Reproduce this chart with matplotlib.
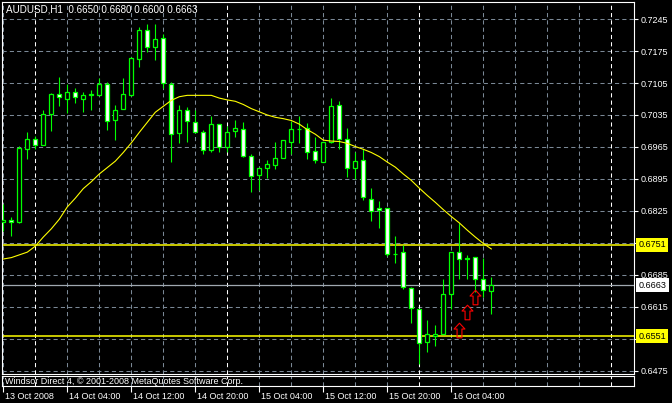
import matplotlib
matplotlib.use('Agg')
import matplotlib.pyplot as plt
import matplotlib.transforms as mtransforms
from matplotlib.path import Path
import numpy as np

plt.rcParams['font.family'] = ['Liberation Sans', 'DejaVu Sans']

# ---- data (AUDUSD H1, 13 Oct 2008 20:00 ... 16 Oct 2008 09:00) ----
symbol = 'AUDUSD,H1'
opens = [0.6801, 0.6805, 0.6800, 0.6961, 0.6982, 0.6970, 0.7037, 0.7081, 0.7071, 0.7085,
         0.7071, 0.7078, 0.7078, 0.7103, 0.7023, 0.7049, 0.7078, 0.7157, 0.7222, 0.7183,
         0.7203, 0.7103, 0.6995, 0.7047, 0.7019, 0.6997, 0.6958, 0.7015, 0.6964, 0.6999,
         0.7004, 0.6945, 0.6903, 0.6918, 0.6925, 0.6942, 0.6977, 0.7004, 0.7006, 0.6956,
         0.6933, 0.6975, 0.7056, 0.6982, 0.6918, 0.6936, 0.6851, 0.6831, 0.6831, 0.6732,
         0.6735, 0.6656, 0.6610, 0.6538, 0.6551, 0.6557, 0.6643, 0.6735, 0.6723, 0.6724,
         0.6676, 0.6650]
highs = [0.6840, 0.6812, 0.6967, 0.6998, 0.6989, 0.7046, 0.7084, 0.7119, 0.7103, 0.7094,
         0.7085, 0.7090, 0.7116, 0.7107, 0.7056, 0.7116, 0.7161, 0.7227, 0.7234, 0.7234,
         0.7212, 0.7107, 0.7056, 0.7053, 0.7046, 0.7002, 0.7033, 0.7015, 0.7012, 0.7023,
         0.7020, 0.6949, 0.6919, 0.6936, 0.6977, 0.6981, 0.7022, 0.7032, 0.7017, 0.6986,
         0.6976, 0.7072, 0.7065, 0.7006, 0.6953, 0.6960, 0.6875, 0.6846, 0.6831, 0.6770,
         0.6750, 0.6658, 0.6611, 0.6586, 0.6575, 0.6676, 0.6736, 0.6798, 0.6728, 0.6725,
         0.6722, 0.6680]
lows = [0.6781, 0.6771, 0.6799, 0.6939, 0.6960, 0.6969, 0.7001, 0.7055, 0.7040, 0.7062,
        0.7042, 0.7046, 0.7078, 0.7002, 0.6980, 0.7049, 0.7077, 0.7141, 0.7173, 0.7155,
        0.7094, 0.6932, 0.6973, 0.6977, 0.6996, 0.6950, 0.6953, 0.6953, 0.6955, 0.6986,
        0.6943, 0.6866, 0.6870, 0.6897, 0.6916, 0.6941, 0.6949, 0.6973, 0.6938, 0.6929,
        0.6932, 0.6974, 0.6960, 0.6899, 0.6894, 0.6848, 0.6804, 0.6788, 0.6727, 0.6712,
        0.6655, 0.6581, 0.6490, 0.6516, 0.6529, 0.6556, 0.6610, 0.6677, 0.6677, 0.6648,
        0.6636, 0.6600]
closes = [0.6805, 0.6800, 0.6962, 0.6982, 0.6970, 0.7037, 0.7081, 0.7074, 0.7085, 0.7074,
          0.7078, 0.7081, 0.7103, 0.7021, 0.7047, 0.7081, 0.7160, 0.7222, 0.7183, 0.7201,
          0.7104, 0.6993, 0.7047, 0.7021, 0.6998, 0.6959, 0.7015, 0.6964, 0.6997, 0.7006,
          0.6945, 0.6901, 0.6918, 0.6927, 0.6942, 0.6980, 0.7004, 0.7004, 0.6953, 0.6936,
          0.6975, 0.7054, 0.6982, 0.6918, 0.6934, 0.6855, 0.6826, 0.6827, 0.6730, 0.6731,
          0.6658, 0.6612, 0.6536, 0.6555, 0.6557, 0.6643, 0.6735, 0.6719, 0.6719, 0.6676,
          0.6652, 0.6663]
ma = [0.6720, 0.6723, 0.6729, 0.6735, 0.6748, 0.6768, 0.6786, 0.6807, 0.6834, 0.6853,
      0.6874, 0.6889, 0.6906, 0.6920, 0.6934, 0.6953, 0.6974, 0.6997, 0.7019, 0.7041,
      0.7054, 0.7067, 0.7075, 0.7078, 0.7078, 0.7078, 0.7078, 0.7072, 0.7068, 0.7065,
      0.7058, 0.7049, 0.7042, 0.7035, 0.7030, 0.7027, 0.7023, 0.7015, 0.7003, 0.6993,
      0.6980, 0.6978, 0.6977, 0.6973, 0.6966, 0.6960, 0.6953, 0.6944, 0.6932, 0.6921,
      0.6906, 0.6892, 0.6875, 0.6859, 0.6844, 0.6828, 0.6813, 0.6799, 0.6783, 0.6768,
      0.6754, 0.6742]

time_labels = ['13 Oct 2008', '14 Oct 04:00', '14 Oct 12:00', '14 Oct 20:00',
               '15 Oct 04:00', '15 Oct 12:00', '15 Oct 20:00', '16 Oct 04:00']
time_label_bars = [0, 8, 16, 24, 32, 40, 48, 56]
day_breaks = [4, 28, 52, 76]
price_ticks = [0.7245, 0.7175, 0.7105, 0.7035, 0.6965, 0.6895, 0.6825,
               0.6755, 0.6685, 0.6615, 0.6545, 0.6475]
hidden_ticks = [0.6755]          # fully covered by the 0.6751 level tag
levels = [0.6751, 0.6551]
bid = 0.6663
arrow_bars = [57, 58, 59]
arrow_prices = [0.6565, 0.6603, 0.6637]
copyright_text = 'Windsor Direct 4, \u00a9 2001-2008 MetaQuotes Software Corp.'

# ---- layout (pixels) ----
W, H = 672, 403
fs = 6.5
grid_c = '#7a8896'
dash = (0, (4, 3))

fig = plt.figure(figsize=(W / 100, H / 100), dpi=100, facecolor='black')
ax = fig.add_axes([2 / W, 1 - 374 / H, 632 / W, 372 / H], facecolor='black')
ax.set_xlim(-0.1625, 78.8375)
ax.set_ylim(0.646843, 0.728219)

# grid
for p in price_ticks:
    ax.axhline(p, color=grid_c, lw=0.75, ls=dash, zorder=1)
for b in range(0, 80, 4):
    col = 'white' if b in day_breaks else grid_c
    ax.axvline(b, color=col, lw=0.75, ls=dash, zorder=1)

# level lines
for lv in levels:
    ax.axhline(lv, color='yellow', lw=1.1, zorder=2)
ax.axhline(bid, color='#a0a8b0', lw=0.9, zorder=2)

# candles
x = np.arange(len(opens))
o = np.array(opens)
c = np.array(closes)
bull = c >= o
ax.vlines(x, lows, highs, color='#00ff00', lw=0.8, zorder=3)
ax.bar(x, np.abs(c - o), bottom=np.minimum(o, c), width=0.5,
       color=np.where(bull, 'black', 'white'), edgecolor='#00ff00',
       linewidth=0.9, zorder=4)

# moving average
ax.plot(x, ma, color='yellow', lw=0.8, zorder=5)

# signal arrows
arrow = Path([(0, 6), (4.5, 1.2), (2, 1.2), (2, -6), (-2, -6), (-2, 1.2), (-4.5, 1.2), (0, 6)],
             [Path.MOVETO] + [Path.LINETO] * 6 + [Path.CLOSEPOLY])
ax.plot(arrow_bars, arrow_prices, ls='none', marker=arrow, markersize=10.5,
        markerfacecolor='none', markeredgecolor='red', markeredgewidth=0.8, zorder=6)

# frame and right price scale
for s in ax.spines.values():
    s.set_color('white')
    s.set_linewidth(0.8)
ax.set_xticks([])
ax.yaxis.tick_right()
ax.set_yticks(price_ticks)
ax.set_yticklabels(['' if p in hidden_ticks else f'{p:.4f}' for p in price_ticks])
ax.tick_params(axis='y', colors='white', length=3, width=0.8, pad=1.5, labelsize=fs)

trans = mtransforms.blended_transform_factory(ax.transAxes, ax.transData) + \
    mtransforms.ScaledTranslation(4.5 / 100, 0, fig.dpi_scale_trans)
for val, bg in [(levels[0], 'yellow'), (bid, 'white'), (levels[1], 'yellow')]:
    ax.text(1.0, val, f'{val:.4f}', transform=trans, ha='left', va='center',
            color='black', fontsize=fs, clip_on=False, zorder=10,
            bbox=dict(boxstyle='square,pad=0.25', fc=bg, ec='none'))

# title
title = f'{symbol}  {opens[-1]:.4f} {highs[-1]:.4f} {lows[-1]:.4f} {closes[-1]:.4f}'
fig.text(6 / W, 1 - 10 / H, title, color='white', fontsize=fs + 0.6, ha='left', va='center')

# bottom strip with time scale
bx = fig.add_axes([2 / W, 1 - 386 / H, 632 / W, 10 / H], facecolor='black')
bx.set_xlim(ax.get_xlim())
bx.set_ylim(0, 1)
bx.set_yticks([])
for s in bx.spines.values():
    s.set_color('white')
    s.set_linewidth(0.8)
for b in range(0, 80, 4):
    col = 'white' if b in day_breaks else grid_c
    bx.axvline(b, color=col, lw=0.75, ls=dash, zorder=1)
bx.text(0.004, 0.45, copyright_text, transform=bx.transAxes, color='white',
        fontsize=fs, ha='left', va='center', zorder=5)
bx.set_xticks(time_label_bars)
bx.set_xticklabels(time_labels, ha='left')
bx.tick_params(axis='x', colors='white', length=4, width=0.8, pad=0.5, labelsize=fs)
shift = mtransforms.ScaledTranslation(2 / 100, 0, fig.dpi_scale_trans)
for lbl in bx.get_xticklabels():
    lbl.set_transform(lbl.get_transform() + shift)

fig.savefig('out.png', dpi=100, facecolor='black')
